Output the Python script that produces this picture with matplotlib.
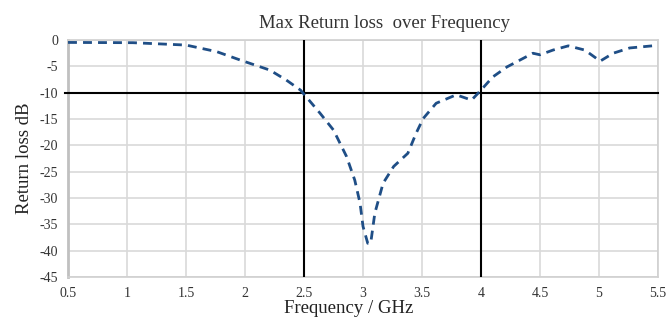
import matplotlib
matplotlib.use("Agg")
import matplotlib.pyplot as plt
import numpy as np

plt.rcParams["axes.unicode_minus"] = False

freq = [0.5, 1.05, 1.5, 1.76, 1.96, 2.21, 2.35, 2.47, 2.636, 2.75, 2.86, 2.93, 2.975, 3.0, 3.04,
        3.065, 3.10, 3.17, 3.26, 3.38, 3.45, 3.51, 3.62, 3.79, 3.92, 4.0, 4.10, 4.22, 4.33,
        4.44, 4.5, 4.61, 4.74, 4.88, 5.01, 5.12, 5.26, 5.45, 5.5]
rl = [-0.45, -0.5, -0.95, -2.2, -3.8, -5.7, -7.6, -9.5, -13.9, -17.1, -22.1, -26.6, -31.0, -35.4, -38.6,
      -38.6, -32.9, -27.2, -24.0, -21.5, -17.7, -14.9, -12.0, -10.4, -11.4, -9.5, -7.0, -5.1, -3.8,
      -2.5, -2.8, -1.9, -1.1, -1.9, -4.0, -2.5, -1.5, -1.1, -1.1]
xticks = [0.5, 1, 1.5, 2, 2.5, 3, 3.5, 4, 4.5, 5, 5.5]
xticklabels = ["0.5", "1", "1.5", "2", "2.5", "3", "3.5", "4", "4.5", "5", "5.5"]
yticks = [0, -5, -10, -15, -20, -25, -30, -35, -40, -45]
vlines = [2.5, 4]
hline = -10

fig = plt.figure(figsize=(6.67, 3.18), dpi=100)
ax = fig.add_axes([0.102, 0.129, 0.8845, 0.745])
ax.plot(freq, rl, color="#1f4e86", lw=2.0, ls=(0, (3.2, 2.2)), zorder=5)
for v in vlines:
    ax.axvline(v, color="black", lw=1.5, zorder=4)
ax.axhline(hline, color="black", lw=1.5, zorder=4, xmin=-0.005, clip_on=False)
ax.set_xlim(0.5, 5.5)
ax.set_ylim(-45, 0)
ax.set_xticks(xticks)
ax.set_xticklabels(xticklabels)
ax.set_yticks(yticks)
ax.grid(True, color="#d9d9d9", lw=1.2)
ax.set_axisbelow(True)
for s in ax.spines.values():
    s.set_color("#d0d0d0")
    s.set_linewidth(1.2)
ax.spines["left"].set_color("#c0c0c0")
ax.spines["left"].set_linewidth(2)
ax.tick_params(length=0, labelsize=10, pad=7, colors="#333333")
for lab in ax.get_xticklabels() + ax.get_yticklabels():
    lab.set_family("Liberation Serif")
ax.set_title("Max Return loss  over Frequency", family="Liberation Serif", fontsize=13.5,
             color="#333333", pad=9, x=0.536)
ax.set_xlabel("Frequency / GHz", family="Liberation Serif", fontsize=13.5, color="#222222",
              labelpad=0, x=0.475)
ax.set_ylabel("Return loss dB", family="Liberation Serif", fontsize=13.5, color="#222222", labelpad=5)
fig.savefig("out.png", dpi=100, facecolor="white")
